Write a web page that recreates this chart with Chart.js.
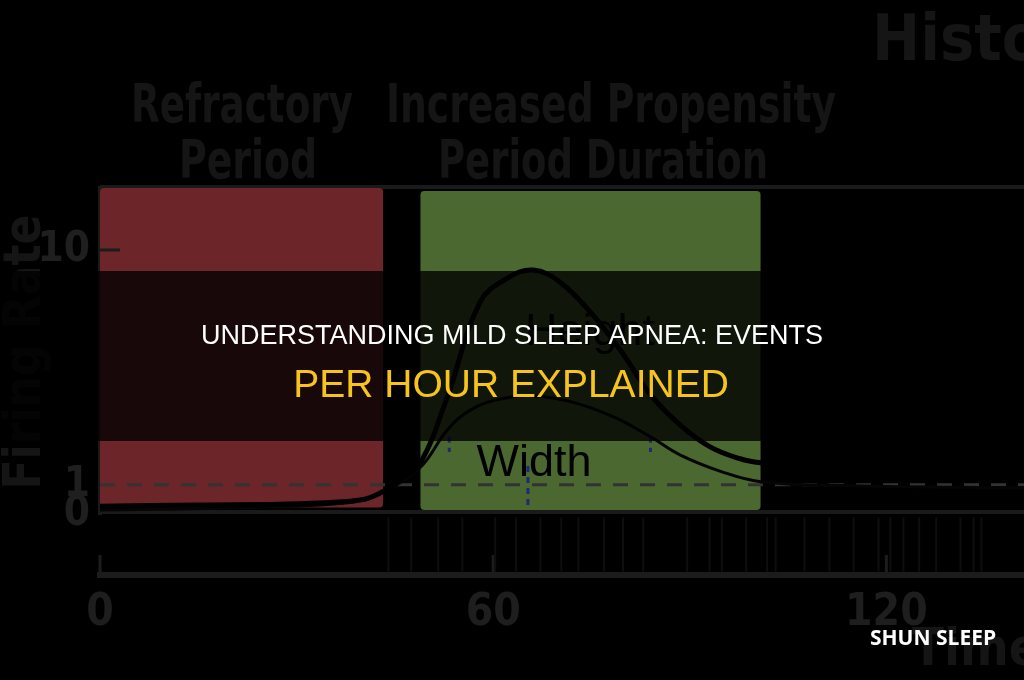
<!DOCTYPE html>
<html>
<head>
<meta charset="utf-8">
<title>Understanding Mild Sleep Apnea: Events per Hour Explained</title>
<script src="https://cdn.jsdelivr.net/npm/chart.js@4.4.1/dist/chart.umd.min.js"></script>
<style>
  html, body { margin: 0; padding: 0; background: #000; }
  #canvas { display: block; }
</style>
</head>
<body>
<canvas id="canvas" width="1024" height="680"></canvas>
<script>
// time (s) and rate values
var heightCurveX = [0, 15.3, 30.5, 39.7, 42.7, 45.8, 48.9, 53.0, 58.0, 62.2, 66.1, 70.2, 74.8, 79.4, 84.0, 88.5, 93.1, 97.7, 100.8, 106.9, 114.5, 122.1, 129.8, 141];
var heightCurveY = [0.81, 0.82, 0.83, 0.86, 0.92, 1.05, 1.24, 2.37, 6.0, 7.6, 8.22, 7.30, 5.45, 3.75, 2.42, 1.80, 1.45, 1.29, 1.24, 1.20, 1.18, 1.16, 1.15, 1.14];
var widthCurveX = [0, 22.9, 38.2, 42.7, 45.8, 49.3, 53.0, 56.5, 61.1, 66.1, 71.8, 78.3, 84.0, 88.5, 94.7, 100.8, 114.5, 141];
var widthCurveY = [0.78, 0.80, 0.84, 0.92, 1.02, 1.22, 1.71, 2.08, 2.32, 2.39, 2.26, 1.95, 1.60, 1.34, 1.14, 1.03, 0.99, 0.97];
var baselineX = [0, 141];
var baselineY = [1, 1];
var spikeTimes = [44.0, 47.5, 51.6, 55.3, 60.3, 63.5, 67.2, 70.4, 73.0, 76.9, 79.8, 82.9, 89.6, 93.0, 94.9, 98.6, 101.8, 103.1, 107.5, 111.3, 115.0, 118.8, 120.6, 122.6, 125.0, 127.6, 131.3, 133.3, 134.5];
var markerX = [53.3, 53.3, null, 84.0, 84.0, null, 65.3, 65.3];
var markerY = [1.6, 1.38, null, 1.6, 1.38, null, 1.2, 0.82];
var refractoryPeriod = [0, 43.2];
var propensityPeriod = [48.9, 100.8];
var xTicks = [0, 60, 120];
var xTickLabels = ["0", "60", "120"];
var yTicks = [0.75, 1, 10];
var yTickLabels = ["0", "1", "10"];

var titleLine1 = "UNDERSTANDING MILD SLEEP APNEA: EVENTS";
var titleLine2 = "PER HOUR EXPLAINED";
var brand = "SHUN SLEEP";

var narrow = '"Liberation Sans Narrow", "DejaVu Sans Condensed", sans-serif';

function pts(xs, ys) {
  return xs.map(function(x, i) { return { x: x, y: ys[i] }; });
}

var figure = {
  id: "figure",
  beforeDraw: function(chart) {
    var ctx = chart.ctx;
    ctx.save();
    ctx.fillStyle = "#000";
    ctx.fillRect(0, 0, chart.width, chart.height);
    ctx.restore();
  },
  beforeDatasetsDraw: function(chart) {
    var ctx = chart.ctx, x = chart.scales.x, y = chart.scales.y;
    ctx.save();
    // frame lines of the upper panel
    ctx.strokeStyle = "#1a1a1a";
    ctx.lineWidth = 4;
    ctx.beginPath();
    ctx.moveTo(x.left, y.top - 1); ctx.lineTo(x.right, y.top - 1);
    ctx.moveTo(x.left, y.bottom - 2); ctx.lineTo(x.right, y.bottom - 2);
    ctx.stroke();
    // shaded periods
    var x0 = x.getPixelForValue(refractoryPeriod[0]), x1 = x.getPixelForValue(refractoryPeriod[1]);
    ctx.fillStyle = "#6c2529";
    ctx.beginPath();
    ctx.roundRect(x0, y.top, x1 - x0, y.getPixelForValue(0.80) - y.top, 4);
    ctx.fill();
    x0 = x.getPixelForValue(propensityPeriod[0]); x1 = x.getPixelForValue(propensityPeriod[1]);
    ctx.fillStyle = "#4a6830";
    ctx.beginPath();
    ctx.roundRect(x0, y.top + 3, x1 - x0, y.getPixelForValue(0.78) - y.top - 3, 4);
    ctx.fill();
    // inward tick marks
    ctx.strokeStyle = "#1c1c1c";
    ctx.lineWidth = 3;
    ctx.beginPath();
    x.ticks.forEach(function(t) {
      var px = x.getPixelForValue(t.value);
      ctx.moveTo(px, x.top); ctx.lineTo(px, x.top - 20);
    });
    var p10 = y.getPixelForValue(10);
    ctx.moveTo(y.right, p10); ctx.lineTo(y.right + 20, p10);
    ctx.stroke();
    // "Width" / "Height" annotations
    ctx.fillStyle = "#000";
    ctx.font = "45px 'Liberation Sans', Arial, sans-serif";
    ctx.textAlign = "center";
    ctx.textBaseline = "alphabetic";
    ctx.fillText("Width", 534, 476);
    ctx.fillText("Height", 590, 345);
    // faded figure headings
    ctx.fillStyle = "#151515";
    ctx.font = "bold 54px " + narrow;
    ctx.fillText("Refractory", 242, 122, 222);
    ctx.fillText("Period", 248, 178, 138);
    ctx.fillText("Increased Propensity", 611, 122, 450);
    ctx.fillText("Period Duration", 603, 178, 330);
    ctx.textAlign = "left";
    ctx.font = "bold 64px " + narrow;
    ctx.fillText("Histogram", 872, 60);
    ctx.font = "bold 52px " + narrow;
    ctx.fillText("Time (s)", 912, 665);
    ctx.translate(40, 352);
    ctx.rotate(-Math.PI / 2);
    ctx.textAlign = "center";
    ctx.fillText("Firing Rate", 0, 0, 275);
    ctx.restore();
  },
  afterDraw: function(chart) {
    var ctx = chart.ctx;
    ctx.save();
    ctx.fillStyle = "rgba(0,0,0,0.78)";
    ctx.fillRect(0, 271, chart.width, 170);
    ctx.textAlign = "center";
    ctx.textBaseline = "alphabetic";
    ctx.fillStyle = "#ffffff";
    ctx.font = "27px 'Liberation Sans', Arial, sans-serif";
    ctx.fillText(titleLine1, 512, 344, 632);
    ctx.fillStyle = "#f6c41c";
    ctx.font = "39px 'Liberation Sans', Arial, sans-serif";
    ctx.fillText(titleLine2, 511, 397, 437);
    ctx.fillStyle = "#ffffff";
    ctx.font = "bold 21px 'Open Sans', sans-serif";
    ctx.fillText(brand, 933, 645);
    ctx.restore();
  }
};

var config = {
  type: "line",
  data: {
    datasets: [
      {
        label: "Height",
        data: pts(heightCurveX, heightCurveY),
        borderColor: "#000",
        borderWidth: 5,
        pointRadius: 0,
        tension: 0.4,
        yAxisID: "y"
      },
      {
        label: "Width",
        data: pts(widthCurveX, widthCurveY),
        borderColor: "#050505",
        borderWidth: 3,
        pointRadius: 0,
        tension: 0.4,
        yAxisID: "y"
      },
      {
        label: "Baseline",
        data: pts(baselineX, baselineY),
        borderColor: "#333333",
        borderWidth: 3,
        borderDash: [15, 12],
        pointRadius: 0,
        yAxisID: "y"
      },
      {
        label: "Markers",
        data: pts(markerX, markerY),
        borderColor: "#1c2c70",
        borderWidth: 3,
        borderDash: [6, 5],
        pointRadius: 0,
        spanGaps: false,
        yAxisID: "y"
      },
      {
        label: "Spikes",
        data: spikeTimes.map(function(t) { return { x: t, y: 0.5 }; }),
        showLine: false,
        pointStyle: "line",
        rotation: 90,
        pointRadius: 27,
        pointBorderWidth: 2,
        pointBorderColor: "#0e0e0e",
        yAxisID: "yr"
      }
    ]
  },
  options: {
    responsive: false,
    animation: false,
    devicePixelRatio: 1,
    layout: { autoPadding: false, padding: { top: 188, left: 0, right: 0, bottom: 0 } },
    plugins: {
      legend: { display: false },
      title: { display: false },
      tooltip: { enabled: false }
    },
    scales: {
      x: {
        type: "linear",
        min: 0,
        max: 141,
        afterBuildTicks: function(s) { s.ticks = xTicks.map(function(v) { return { value: v }; }); },
        afterFit: function(s) { s.height = 105; s.paddingLeft = 0; s.paddingRight = 0; },
        grid: { display: false },
        border: { display: true, color: "#1c1c1c", width: 6 },
        ticks: {
          autoSkip: false,
          maxRotation: 0,
          padding: 4,
          color: "#1e1e1e",
          font: { family: narrow, size: 44, weight: "bold" },
          callback: function(v, i) { return xTickLabels[i]; }
        }
      },
      yr: {
        type: "linear",
        position: "left",
        stack: "panel",
        stackWeight: 61,
        min: 0,
        max: 1,
        afterFit: function(s) { s.width = 100; },
        grid: { display: false },
        border: { display: false },
        ticks: { display: false }
      },
      y: {
        type: "logarithmic",
        position: "left",
        stack: "panel",
        stackWeight: 326,
        min: 0.75,
        max: 18.4,
        afterBuildTicks: function(s) { s.ticks = yTicks.map(function(v) { return { value: v }; }); },
        afterFit: function(s) { s.width = 100; },
        grid: { display: false },
        border: { display: true, color: "#1a1a1a", width: 4 },
        ticks: {
          autoSkip: false,
          padding: 2,
          color: "#1f1f1f",
          font: { family: narrow, size: 42, weight: "bold" },
          callback: function(v, i) { return yTickLabels[i]; }
        }
      }
    }
  },
  plugins: [figure]
};

window.onload = function() {
  var ctx = document.getElementById("canvas").getContext("2d");
  window.myChart = new Chart(ctx, config);
};
</script>
</body>
</html>
